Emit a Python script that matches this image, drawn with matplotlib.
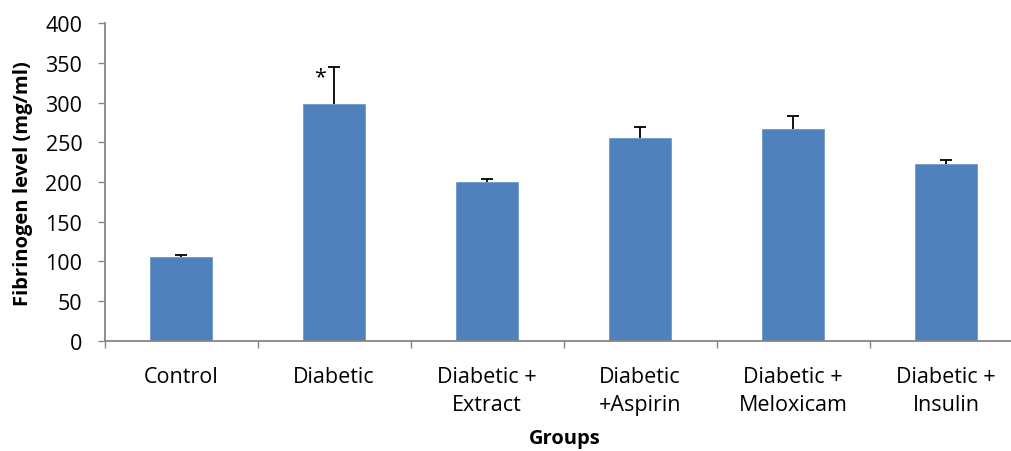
import matplotlib
matplotlib.use("Agg")
import matplotlib.pyplot as plt
import numpy as np

groups = ["Control", "Diabetic", "Diabetic +\nExtract", "Diabetic\n+Aspirin",
          "Diabetic +\nMeloxicam", "Diabetic +\nInsulin"]
fibrinogen = [106, 298, 200, 255, 267, 223]
sem = [1.5, 47, 3.5, 14, 16, 5]
significance = ["", "*", "", "", "", ""]

plt.rcParams["font.family"] = ["Open Sans", "DejaVu Sans"]
FS = 15.5

W, H = 1011, 452
fig = plt.figure(figsize=(W / 100, H / 100), dpi=100)
ax = fig.add_axes([104.5 / W, 1 - 341.7 / H, 918 / W, 317.4 / H])

x = np.arange(len(groups))
ax.bar(x, fibrinogen, width=0.4, color="#4F81BD", edgecolor="#6E98CB",
       linewidth=0.6, zorder=2)
eb = ax.errorbar(x, fibrinogen, yerr=[np.zeros(len(sem)), sem], fmt="none",
                 ecolor="black", elinewidth=1.3, capsize=4.5, capthick=1.3, zorder=3)
# only the upper (plus) cap is drawn
for cap in eb.lines[1]:
    if np.allclose(cap.get_ydata(), fibrinogen):
        cap.set_visible(False)

for xi, (v, e, s) in enumerate(zip(fibrinogen, sem, significance)):
    if s:
        ax.annotate(s, xy=(xi, v + e), xytext=(-10, -7), textcoords="offset points",
                    ha="center", va="center", fontsize=FS)

ax.set_xlim(-0.5, len(groups) - 0.5)
ax.set_ylim(0, 400)
ax.set_yticks(np.arange(0, 401, 50))
ax.set_xticks(x)
ax.set_xticklabels(groups, fontsize=FS, linespacing=1.48)
ax.set_xticks(np.arange(-0.5, len(groups), 1), minor=True)
ax.tick_params(axis="x", which="major", length=0, pad=18)
ax.tick_params(axis="x", which="minor", length=5, width=1, color="#868686")
ax.tick_params(axis="y", length=5, width=1, color="#868686", labelsize=FS, pad=11)

for side in ("top", "right"):
    ax.spines[side].set_visible(False)
for side in ("left", "bottom"):
    ax.spines[side].set_color("#868686")
    ax.spines[side].set_linewidth(1.3)

fig.text(23 / W, 1 - 183.5 / H, "Fibrinogen level (mg/ml)", rotation=90,
         ha="center", va="center", fontsize=14.5, fontweight="bold")
fig.text(565 / W, 1 - 439 / H, "Groups", ha="center", va="center",
         fontsize=14.5, fontweight="bold")

fig.savefig("out.png", dpi=100)
